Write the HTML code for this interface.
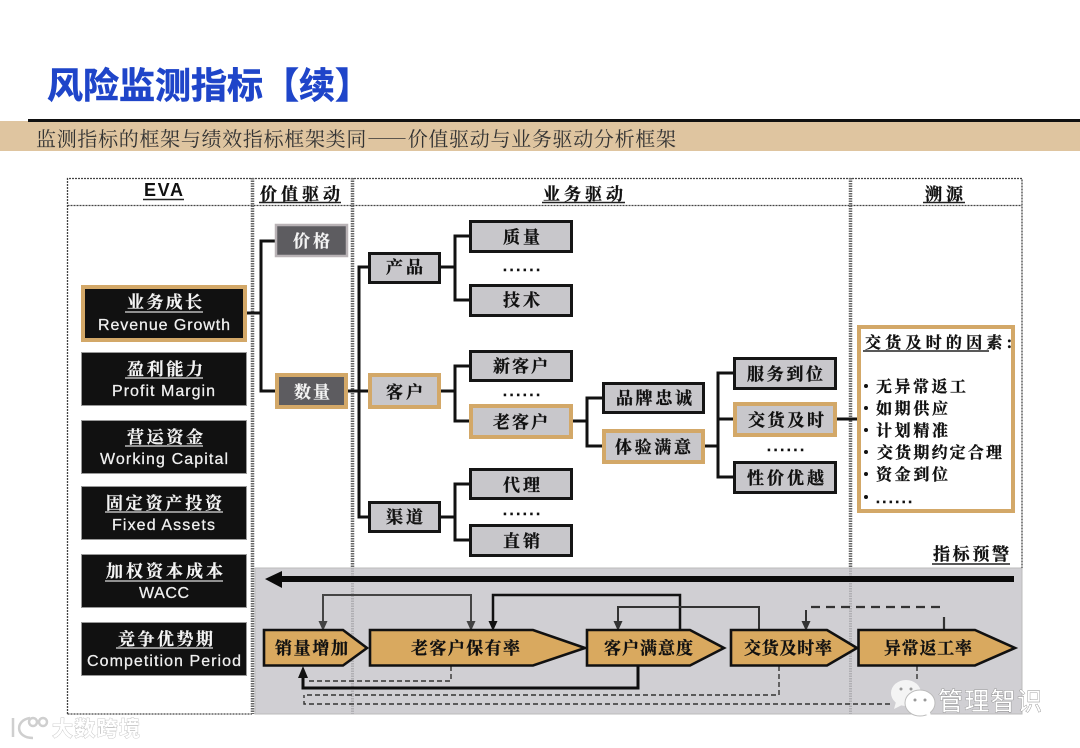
<!DOCTYPE html>
<html lang="zh">
<head>
<meta charset="utf-8">
<style>
html,body{margin:0;padding:0;background:#fff;width:1080px;height:748px;overflow:hidden}
svg{display:block;filter:blur(.35px)}
text{font-family:"Liberation Serif","Noto Serif CJK SC",serif}
.k{font-family:"Noto Serif CJK SC",serif;font-weight:700;fill:#111;stroke:#111;stroke-width:.3;font-size:17px}
.w{font-family:"Noto Serif CJK SC",serif;font-weight:700;fill:#f4f4f4;stroke:#f4f4f4;stroke-width:.2;font-size:17px}
.e{font-family:"Liberation Sans",sans-serif;fill:#f0f0f0;stroke:#f0f0f0;stroke-width:.25;font-size:16px}
.dots{font-family:"Liberation Sans",sans-serif;font-weight:700;fill:#111;stroke:#111;stroke-width:.5;font-size:14px}
.c{stroke:#111;stroke-width:3;fill:none}
.bx{fill:#c8c7cb;stroke:#151515;stroke-width:3}
.gd{fill:#c8c7cb;stroke:#d3a868;stroke-width:4}
.dk{fill:#111;stroke:#999;stroke-width:1}
.ch{fill:#d9a95f;stroke:#111;stroke-width:2.6}
.ul{stroke:#ddd;stroke-width:1.2}
.ub{stroke:#222;stroke-width:1.4}
.dd{stroke:#333;stroke-width:1.4;stroke-dasharray:5 3;fill:none}
</style>
</head>
<body>
<svg width="1080" height="748" viewBox="0 0 1080 748" xmlns="http://www.w3.org/2000/svg">
<rect width="1080" height="748" fill="#fff"/>

<!-- Title -->
<text x="47" y="98" textLength="324" lengthAdjust="spacing" style="font-family:'Liberation Sans','Noto Sans CJK SC',sans-serif;font-weight:700;font-size:36px;fill:#1f45c9;stroke:#1f45c9;stroke-width:.6">风险监测指标【续】</text>
<rect x="0" y="121" width="1080" height="30" fill="#dfc5a0"/>
<rect x="28" y="119" width="1052" height="3" fill="#111"/>
<text x="36" y="146" textLength="640" lengthAdjust="spacing" style="font-family:'Noto Serif CJK SC',serif;font-size:20px;fill:#333">监测指标的框架与绩效指标框架类同——价值驱动与业务驱动分析框架</text>

<!-- Bottom grey panel -->
<rect x="255" y="568" width="767" height="146" fill="#d0cfd3" stroke="#bbb" stroke-width="1"/>

<!-- Frame -->
<path d="M67.500 714V178.500H1022V568" fill="none" stroke="#444" stroke-width="1.300" stroke-dasharray="2 1"/>
<path d="M67.500 714H252M67.500 205.500H1022" fill="none" stroke="#444" stroke-width="1.300" stroke-dasharray="2 1"/>
<g fill="none" stroke="#666" stroke-width="3.500" stroke-dasharray="1.500 1">
<path d="M252.500 178V714"/>
<path d="M352.500 178V568"/>
<path d="M850.500 178V568"/>
</g>
<g fill="none" stroke="#b0afb3" stroke-width="3" stroke-dasharray="1.500 1">
<path d="M352.500 568V714"/>
<path d="M850.500 568V714"/>
</g>

<!-- Headers -->
<text x="144" y="196" textLength="39" lengthAdjust="spacing" style="font-family:'Liberation Sans',sans-serif;font-weight:700;font-size:18px;fill:#111">EVA</text>
<line x1="143" y1="199.500" x2="184" y2="199.500" stroke="#222" stroke-width="1.500"/>
<text x="260" y="200" textLength="80" lengthAdjust="spacing" class="k">价值驱动</text>
<line x1="259" y1="202.500" x2="341" y2="202.500" stroke="#222" stroke-width="1.500"/>
<text x="543" y="200" textLength="80" lengthAdjust="spacing" class="k">业务驱动</text>
<line x1="542" y1="202.500" x2="625" y2="202.500" stroke="#222" stroke-width="1.500"/>
<text x="925" y="200" textLength="38" lengthAdjust="spacing" class="k">溯源</text>
<line x1="923" y1="202.500" x2="965" y2="202.500" stroke="#222" stroke-width="1.500"/>

<!-- Connectors of the tree -->
<path class="c" d="M247 313H261M275 241H261V391H275"/>
<path class="c" d="M348 391H359M368 267H359V517H368M359 391H368"/>
<path class="c" d="M441 267H455M469 236H455V300H469"/>
<path class="c" d="M441 391H455M469 366H455V421H469"/>
<path class="c" d="M441 517H455M469 484H455V540H469"/>
<path class="c" d="M573 421H587M602 398H587V446H602"/>
<path class="c" d="M705 446H718M733 373H718V477H733M718 419H733"/>
<path class="c" d="M837 419H857"/>

<!-- Left EVA boxes -->
<rect x="83" y="287" width="162" height="53" fill="#111" stroke="#d3a868" stroke-width="4"/>
<rect class="dk" x="81.500" y="352.500" width="165" height="53"/>
<rect class="dk" x="81.500" y="420.500" width="165" height="53"/>
<rect class="dk" x="81.500" y="486.500" width="165" height="53"/>
<rect class="dk" x="81.500" y="554.500" width="165" height="53"/>
<rect class="dk" x="81.500" y="622.500" width="165" height="53"/>

<text class="w" x="127" y="308" textLength="75" lengthAdjust="spacing">业务成长</text>
<line class="ul" x1="125" y1="312" x2="203" y2="312"/>
<text class="e" x="98" y="330" textLength="132" lengthAdjust="spacing">Revenue Growth</text>

<text class="w" x="127" y="375" textLength="76" lengthAdjust="spacing">盈利能力</text>
<line class="ul" x1="125" y1="378" x2="203" y2="378"/>
<text class="e" x="112" y="396" textLength="103" lengthAdjust="spacing">Profit Margin</text>

<text class="w" x="127" y="443" textLength="76" lengthAdjust="spacing">营运资金</text>
<line class="ul" x1="125" y1="446" x2="203" y2="446"/>
<text class="e" x="100" y="464" textLength="128" lengthAdjust="spacing">Working Capital</text>

<text class="w" x="106" y="509" textLength="116" lengthAdjust="spacing">固定资产投资</text>
<line class="ul" x1="105" y1="512" x2="223" y2="512"/>
<text class="e" x="112" y="530" textLength="103" lengthAdjust="spacing">Fixed Assets</text>

<text class="w" x="106" y="577" textLength="117" lengthAdjust="spacing">加权资本成本</text>
<line class="ul" x1="105" y1="581" x2="223" y2="581"/>
<text class="e" x="139" y="598" textLength="50" lengthAdjust="spacing">WACC</text>

<text class="w" x="118" y="645" textLength="95" lengthAdjust="spacing">竞争优势期</text>
<line class="ul" x1="116" y1="648" x2="213" y2="648"/>
<text class="e" x="87" y="666" textLength="154" lengthAdjust="spacing">Competition Period</text>

<!-- Value driver boxes -->
<rect x="276" y="225" width="71" height="31" fill="#5d5c60" stroke="#b9b3b6" stroke-width="2.500"/>
<text class="w" x="293" y="247" textLength="37" lengthAdjust="spacing">价格</text>
<rect x="277" y="375" width="69" height="32" fill="#5d5c60" stroke="#d3a868" stroke-width="4"/>
<text class="w" x="294" y="398" textLength="36" lengthAdjust="spacing">数量</text>

<!-- Business driver boxes -->
<rect class="bx" x="369.500" y="253.500" width="70" height="29"/>
<text class="k" x="386" y="273" textLength="37" lengthAdjust="spacing">产品</text>
<rect class="gd" x="370" y="375" width="69" height="32"/>
<text class="k" x="386" y="398" textLength="37" lengthAdjust="spacing">客户</text>
<rect class="bx" x="369.500" y="502.500" width="70" height="29"/>
<text class="k" x="386" y="523" textLength="37" lengthAdjust="spacing">渠道</text>

<rect class="bx" x="470.500" y="221.500" width="101" height="30"/>
<text class="k" x="503" y="243" textLength="37" lengthAdjust="spacing">质量</text>
<text class="dots" x="503" y="271" textLength="37" lengthAdjust="spacing">......</text>
<rect class="bx" x="470.500" y="285.500" width="101" height="30"/>
<text class="k" x="503" y="306" textLength="37" lengthAdjust="spacing">技术</text>

<rect class="bx" x="470.500" y="351.500" width="101" height="29"/>
<text class="k" x="493" y="372" textLength="55" lengthAdjust="spacing">新客户</text>
<text class="dots" x="503" y="396" textLength="37" lengthAdjust="spacing">......</text>
<rect class="gd" x="471" y="406" width="100" height="31"/>
<text class="k" x="493" y="428" textLength="55" lengthAdjust="spacing">老客户</text>

<rect class="bx" x="470.500" y="469.500" width="101" height="29"/>
<text class="k" x="503" y="491" textLength="37" lengthAdjust="spacing">代理</text>
<text class="dots" x="503" y="515" textLength="37" lengthAdjust="spacing">......</text>
<rect class="bx" x="470.500" y="525.500" width="101" height="30"/>
<text class="k" x="503" y="547" textLength="37" lengthAdjust="spacing">直销</text>

<rect class="bx" x="603.500" y="383.500" width="100" height="29"/>
<text class="k" x="616" y="404" textLength="76" lengthAdjust="spacing">品牌忠诚</text>
<rect class="gd" x="604" y="431" width="99" height="31"/>
<text class="k" x="615" y="453" textLength="76" lengthAdjust="spacing">体验满意</text>

<rect class="bx" x="734.500" y="358.500" width="101" height="30"/>
<text class="k" x="747" y="380" textLength="76" lengthAdjust="spacing">服务到位</text>
<rect class="gd" x="735" y="404" width="100" height="31"/>
<text class="k" x="748" y="426" textLength="76" lengthAdjust="spacing">交货及时</text>
<text class="dots" x="767" y="451" textLength="37" lengthAdjust="spacing">......</text>
<rect class="bx" x="734.500" y="462.500" width="101" height="30"/>
<text class="k" x="747" y="484" textLength="77" lengthAdjust="spacing">性价优越</text>

<!-- Trace box -->
<rect x="859" y="327" width="154" height="184" fill="#fff" stroke="#d3a868" stroke-width="4"/>
<text class="k" x="865" y="348" textLength="147" lengthAdjust="spacing" style="font-size:16px">交货及时的因素:</text>
<line class="ub" x1="863" y1="351" x2="989" y2="351"/>
<g fill="#111">
<circle cx="866" cy="386" r="2"/><circle cx="866" cy="408" r="2"/><circle cx="866" cy="430" r="2"/>
<circle cx="866" cy="452" r="2"/><circle cx="866" cy="474" r="2"/><circle cx="866" cy="497" r="2"/>
</g>
<text class="k" x="876" y="392" textLength="90" lengthAdjust="spacing" style="font-size:16px">无异常返工</text>
<text class="k" x="876" y="414" textLength="72" lengthAdjust="spacing" style="font-size:16px">如期供应</text>
<text class="k" x="876" y="436" textLength="72" lengthAdjust="spacing" style="font-size:16px">计划精准</text>
<text class="k" x="877" y="458" textLength="125" lengthAdjust="spacing" style="font-size:16px">交货期约定合理</text>
<text class="k" x="876" y="480" textLength="72" lengthAdjust="spacing" style="font-size:16px">资金到位</text>
<text class="dots" x="876" y="503" textLength="36" lengthAdjust="spacing">......</text>

<text class="k" x="933" y="560" textLength="76" lengthAdjust="spacing">指标预警</text>
<line class="ub" x1="932" y1="564" x2="1010" y2="564"/>

<!-- Big arrow -->
<rect x="280" y="576" width="734" height="6" fill="#0a0a0a"/>
<polygon points="265,579 282,571 282,588" fill="#0a0a0a"/>

<!-- Flow connectors -->
<path d="M323 622V595H471V622" fill="none" stroke="#444" stroke-width="2"/>
<polygon points="318.500,621 327.500,621 323,631" fill="#444"/>
<polygon points="466.500,621 475.500,621 471,631" fill="#444"/>
<path d="M493 622V595H680V630" fill="none" stroke="#111" stroke-width="2.500"/>
<polygon points="488.500,621 497.500,621 493,631" fill="#111"/>
<path d="M618 622V607H759V630" fill="none" stroke="#333" stroke-width="2"/>
<polygon points="613.500,621 622.500,621 618,631" fill="#333"/>
<path d="M811 607H945" fill="none" stroke="#333" stroke-width="2.200" stroke-dasharray="9 6"/>
<path d="M944 617V630" stroke="#333" stroke-width="2.200"/>
<path d="M806 610V622" stroke="#333" stroke-width="2"/>
<polygon points="801.500,621 810.500,621 806,631" fill="#333"/>

<path class="dd" d="M451 666V681H306"/>
<path class="dd" d="M779 666V695H304"/>
<path class="dd" d="M917 666V680M890 704H304V695"/>
<path d="M638 666V688H303V675" fill="none" stroke="#0d0d0d" stroke-width="3"/>
<polygon points="303,666 298,678 308,678" fill="#111"/>

<!-- Chevrons -->
<polygon class="ch" points="264,630 343,630 367,648 343,665.500 264,665.500"/>
<polygon class="ch" points="370,630 533,630 585,648 533,665.500 370,665.500"/>
<polygon class="ch" points="587,630 690,630 724,648 690,665.500 587,665.500"/>
<polygon class="ch" points="731,630 827,630 857,648 827,665.500 731,665.500"/>
<polygon class="ch" points="858.500,630 975,630 1015,648 975,665.500 858.500,665.500"/>
<text class="k" x="275" y="654" textLength="73" lengthAdjust="spacing">销量增加</text>
<text class="k" x="411" y="654" textLength="109" lengthAdjust="spacing">老客户保有率</text>
<text class="k" x="604" y="654" textLength="89" lengthAdjust="spacing">客户满意度</text>
<text class="k" x="744" y="654" textLength="88" lengthAdjust="spacing">交货及时率</text>
<text class="k" x="884" y="654" textLength="88" lengthAdjust="spacing">异常返工率</text>

<!-- WeChat watermark -->
<ellipse cx="906" cy="693" rx="15" ry="13" fill="#f4f4f4"/>
<polygon points="896,702 894,709 904,704" fill="#f4f4f4"/>
<ellipse cx="920" cy="703" rx="15" ry="13" fill="#fff" stroke="#bbb" stroke-width="1"/>
<polygon points="924,714 931,716 929,709" fill="#fff"/>
<circle cx="901" cy="689" r="1.500" fill="#999"/><circle cx="911" cy="689" r="1.500" fill="#999"/>
<circle cx="915" cy="700" r="1.500" fill="#999"/><circle cx="925" cy="700" r="1.500" fill="#999"/>
<text x="938" y="710" textLength="104" lengthAdjust="spacing" style="font-family:'Noto Sans CJK SC',sans-serif;font-size:25px;fill:#fff;stroke:#8a8a8a;stroke-width:.8;paint-order:stroke">管理智识</text>

<!-- Bottom-left watermark -->
<g fill="none" stroke="#cfcfcf" stroke-width="2.500">
<path d="M13 718V737"/><path d="M30 718C15 720 15 738 33 738"/>
<circle cx="33" cy="722" r="4"/><circle cx="43" cy="722" r="4"/>
</g>
<text x="52" y="736" textLength="88" lengthAdjust="spacing" style="font-family:'Noto Sans CJK SC',sans-serif;font-size:21px;font-weight:700;fill:#fff;stroke:#c4c4c4;stroke-width:.9;paint-order:stroke">大数跨境</text>
</svg>
</body>
</html>
